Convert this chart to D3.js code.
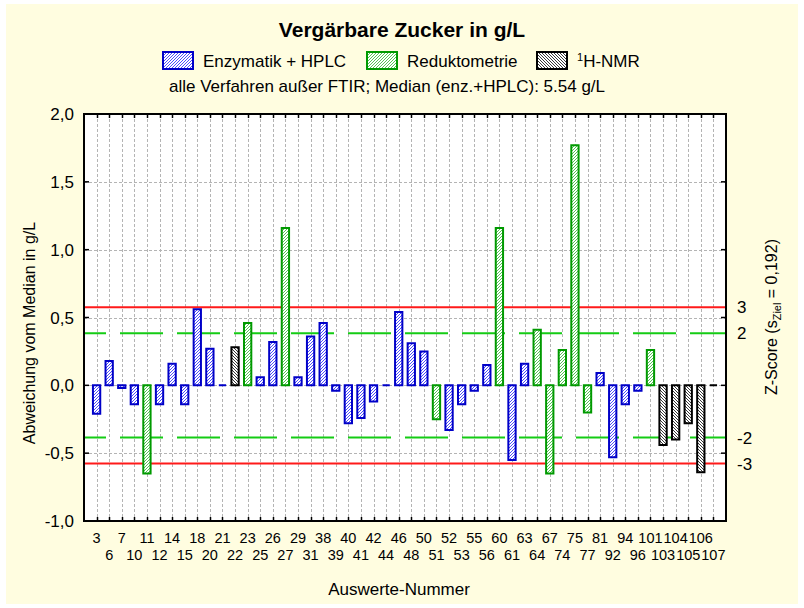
<!DOCTYPE html>
<html>
<head>
<meta charset="utf-8">
<script src="https://cdn.jsdelivr.net/npm/d3@7"></script>
<style>
  html, body { margin: 0; padding: 0; background: #ffffff; }
  svg { display: block; }
  text { font-family: "Liberation Sans", Arial, Helvetica, sans-serif; fill: #000; }
</style>
</head>
<body>
<svg id="chart" width="804" height="608"></svg>
<script>
// ---------- data ----------
const categories = ["3","6","7","10","11","12","14","15","18","20","21","22","23","25","26","27","29","31","38","39","40","41","42","44","46","48","50","51","52","53","55","56","60","61","63","64","67","74","75","77","81","92","94","96","101","103","104","105","106","107"];
const values = [-0.21,0.18,-0.02,-0.14,-0.65,-0.14,0.16,-0.14,0.56,0.27,0.0,0.28,0.46,0.06,0.32,1.16,0.06,0.36,0.46,-0.04,-0.28,-0.24,-0.12,0.0,0.54,0.31,0.25,-0.25,-0.33,-0.14,-0.04,0.15,1.16,-0.55,0.16,0.41,-0.65,0.26,1.77,-0.20,0.09,-0.53,-0.14,-0.04,0.26,-0.44,-0.40,-0.28,-0.64,0.0];
const methods = ["E","E","E","E","R","E","E","E","E","E","E","N","R","E","E","R","E","E","E","E","E","E","E","E","E","E","E","R","E","E","E","E","R","E","E","R","R","R","R","R","E","E","E","E","R","N","N","N","N","N"];
const methodKeys = ["E","R","N"];
const methodNames = ["Enzymatik + HPLC","Reduktometrie","H-NMR"];
const yTicks = [-1.0,-0.5,0.0,0.5,1.0,1.5,2.0];
const zTarget = 0.192;
const zLevels = [3,2,-2,-3];

// ---------- styles ----------
const strokeCol = {E:"#0000c8", R:"#009a00", N:"#000000"};
const fillId = {E:"url(#hatchE)", R:"url(#hatchR)", N:"url(#hatchN)"};

const svg = d3.select("#chart");
const defs = svg.append("defs");
function hatch(id, col, dir, bg){
  const p = defs.append("pattern").attr("id",id).attr("patternUnits","userSpaceOnUse")
    .attr("width",3).attr("height",3);
  p.append("rect").attr("width",3).attr("height",3).attr("fill",bg);
  const d = dir === "/" ? "M-1,1 l2,-2 M0,3 l3,-3 M2,4 l2,-2" : "M-1,2 l2,2 M0,0 l3,3 M2,-1 l2,2";
  p.append("path").attr("d",d).attr("stroke",col).attr("stroke-width",0.9);
}
hatch("hatchE","#3a3aff","/","#ffffff");
hatch("hatchR","#3fbf3f","/","#ffffff");
hatch("hatchN","#222222","\\","#ffffff");

// background
svg.append("rect").attr("x",6).attr("y",4).attr("width",792).attr("height",600).attr("fill","#fffde0");

const L = 84, R = 726, T = 114, B = 521;
const x = d3.scalePoint().domain(categories).range([L, R]).padding(1);
const y = d3.scaleLinear().domain([-1, 2]).range([B, T]);
const step = x.step();
const barW = step * 0.58;

svg.append("rect").attr("x",L).attr("y",T).attr("width",R-L).attr("height",B-T).attr("fill","#ffffff");

// grid
const grid = svg.append("g").attr("stroke","#b4b4b4").attr("stroke-width",1).attr("stroke-dasharray","3,2");
grid.selectAll("line.v").data(categories).join("line").attr("class","v")
  .attr("x1",d=>Math.round(x(d))+0.5).attr("x2",d=>Math.round(x(d))+0.5).attr("y1",T).attr("y2",B);
grid.selectAll("line.h").data(yTicks).join("line").attr("class","h")
  .attr("x1",L).attr("x2",R).attr("y1",d=>Math.round(y(d))+0.5).attr("y2",d=>Math.round(y(d))+0.5);

// z lines
svg.append("g").selectAll("line").data(zLevels).join("line")
  .attr("x1",L).attr("x2",R)
  .attr("y1",d=>y(d*zTarget)).attr("y2",d=>y(d*zTarget))
  .attr("stroke",d=>Math.abs(d)===3 ? "#ff1a1a" : "#14cc14")
  .attr("stroke-width",2)
  .attr("stroke-dasharray",d=>Math.abs(d)===3 ? null : "43,14")
  .attr("stroke-dashoffset",21);

// bars
const data = categories.map((c,i)=>({c, v:values[i], m:methods[i]}));
svg.append("g").selectAll("path").data(data).join("path")
  .attr("d",d=>{
    const x0 = x(d.c) - barW/2;
    const y0 = y(0), y1 = y(d.v);
    return `M${x0},${y0}V${y1}H${x0+barW}V${y0}Z`;
  })
  .attr("fill",d=>fillId[d.m])
  .attr("stroke",d=>strokeCol[d.m])
  .attr("stroke-width",2);

// frame
svg.append("rect").attr("x",L).attr("y",T).attr("width",R-L).attr("height",B-T)
  .attr("fill","none").attr("stroke","#000").attr("stroke-width",2);

// ticks
const tk = svg.append("g").attr("stroke","#000").attr("stroke-width",1.5);
categories.forEach(c=>{
  const xx = Math.round(x(c))+0.5;
  tk.append("line").attr("x1",xx).attr("x2",xx).attr("y1",T).attr("y2",T+4);
  tk.append("line").attr("x1",xx).attr("x2",xx).attr("y1",B).attr("y2",B-4);
});
yTicks.forEach(v=>{
  const yy = y(v);
  tk.append("line").attr("x1",L).attr("x2",L+5).attr("y1",yy).attr("y2",yy);
  tk.append("line").attr("x1",R).attr("x2",R-5).attr("y1",yy).attr("y2",yy);
});

// y tick labels
svg.append("g").selectAll("text").data(yTicks).join("text")
  .attr("x",74).attr("y",d=>y(d)).attr("dy","0.36em")
  .attr("text-anchor","end").attr("font-size",17)
  .text(d=>d3.format(".1f")(d).replace(".",",").replace("−","-"));

// x tick labels
svg.append("g").selectAll("text").data(categories).join("text")
  .attr("x",d=>x(d)).attr("y",(d,i)=> i%2===0 ? 543 : 560)
  .attr("text-anchor","middle").attr("font-size",14.5)
  .text(d=>d);

// z labels on right
svg.append("g").selectAll("text").data(zLevels).join("text")
  .attr("x",737).attr("y",d=>y(d*zTarget)).attr("dy","0.36em")
  .attr("font-size",17).text(d=>d);

// axis titles
svg.append("text").attr("transform","translate(35,333) rotate(-90)")
  .attr("text-anchor","middle").attr("font-size",16).text("Abweichung vom Median in g/L");
svg.append("text").attr("x",399).attr("y",595).attr("text-anchor","middle").attr("font-size",17).text("Auswerte-Nummer");
const zt = svg.append("text").attr("transform","translate(777,317) rotate(-90)")
  .attr("text-anchor","middle").attr("font-size",16);
zt.append("tspan").text("Z-Score (s");
zt.append("tspan").attr("font-size",11).attr("dy",4).text("Ziel");
zt.append("tspan").attr("dy",-4).text(" = 0,192)");

// title
svg.append("text").attr("x",402).attr("y",37).attr("text-anchor","middle")
  .attr("font-size",21).attr("font-weight","bold").text("Vergärbare Zucker in g/L");
svg.append("text").attr("x",387).attr("y",92).attr("text-anchor","middle")
  .attr("font-size",17).text("alle Verfahren außer FTIR; Median (enz.+HPLC): 5.54 g/L");

// legend
const legX = [163, 367, 537];
const lg = svg.append("g");
methodKeys.forEach((k,i)=>{
  lg.append("rect").attr("x",legX[i]).attr("y",52).attr("width",30).attr("height",17)
    .attr("fill",fillId[k]).attr("stroke",strokeCol[k]).attr("stroke-width",2);
  const t = lg.append("text").attr("x",legX[i]+40).attr("y",67).attr("font-size",17);
  if (k === "N") {
    t.append("tspan").attr("font-size",11).attr("dy",-6).text("1");
    t.append("tspan").attr("dy",6).text(methodNames[i]);
  } else {
    t.text(methodNames[i]);
  }
});
</script>
</body>
</html>
